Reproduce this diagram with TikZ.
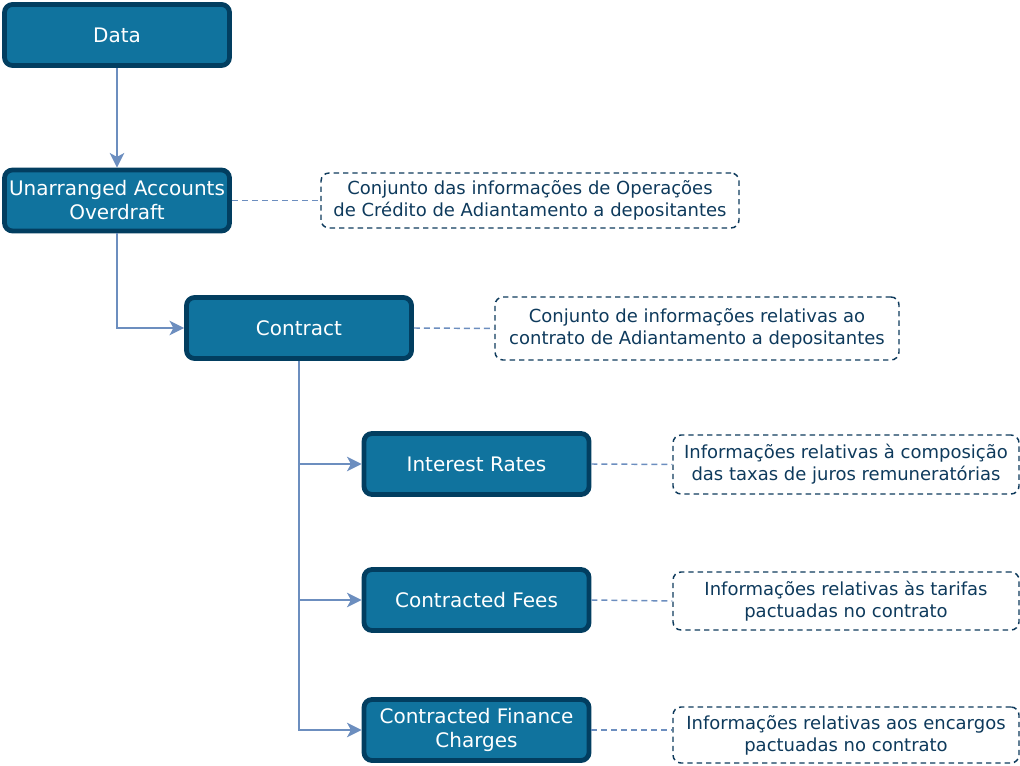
\documentclass[tikz,border=0pt]{standalone}
\usepackage{fontspec}
\setmainfont{DejaVu Sans}
\usetikzlibrary{arrows.meta}
\definecolor{boxfill}{HTML}{10739E}
\definecolor{boxline}{HTML}{023E60}
\definecolor{notetext}{HTML}{0E3A5C}
\definecolor{conn}{HTML}{6C8EBF}
\tikzset{
  mainbox/.style={draw=boxline, fill=boxfill, line width=3.6pt, rounded corners=6pt,
    minimum width=225*0.75pt, minimum height=61*0.75pt, inner sep=0pt,
    text=white, align=center, font=\fontsize{15}{18}\selectfont},
  note/.style={draw=notetext, line width=1.1pt, dash pattern=on 4pt off 3pt, rounded corners=6pt,
    inner sep=0pt, text=notetext, align=center, font=\fontsize{13.5}{16.5}\selectfont},
  link/.style={draw=conn, line width=1.1pt, -{Stealth[length=11pt,width=11pt,inset=3pt]}},
  dlink/.style={draw=conn, line width=1.1pt, dash pattern=on 4.5pt off 3pt},
}
\begin{document}
\begin{tikzpicture}[x=0.75pt,y=-0.75pt]
\useasboundingbox (0,0) rectangle (1020,766);
\node[mainbox] (data) at (117,35) {Data};
\node[mainbox] (uao) at (117,200.5) {Unarranged Accounts\\Overdraft};
\node[mainbox] (con) at (299,328) {Contract};
\node[mainbox] (ir) at (476.5,464) {Interest Rates};
\node[mainbox] (cf) at (476.5,600) {Contracted Fees};
\node[mainbox] (cfc) at (476.5,730) {Contracted Finance\\Charges};

\node[note, minimum width=418*0.75pt, minimum height=55*0.75pt] (n1) at (530,200.5) {Conjunto das informações de Operações\\de Crédito de Adiantamento a depositantes};
\node[note, minimum width=404*0.75pt, minimum height=63*0.75pt] (n2) at (697,328.5) {Conjunto de informações relativas ao\\contrato de Adiantamento a depositantes};
\node[note, minimum width=346*0.75pt, minimum height=59*0.75pt] (n3) at (846,464.5) {Informações relativas à composição\\das taxas de juros remuneratórias};
\node[note, minimum width=346*0.75pt, minimum height=58*0.75pt] (n4) at (846,601) {Informações relativas às tarifas\\pactuadas no contrato};
\node[note, minimum width=346*0.75pt, minimum height=56*0.75pt] (n5) at (846,735) {Informações relativas aos encargos\\pactuadas no contrato};

\draw[link] (data.south) -- (uao.north);
\draw[link] (uao.south) |- (con.west);
\draw[link] (con.south) |- (ir.west);
\draw[link] (con.south) |- (cf.west);
\draw[link] (con.south) |- (cfc.west);

\draw[dlink] (uao.east) -- (n1.west);
\draw[dlink] (con.east) -- (n2.west);
\draw[dlink] (ir.east) -- (n3.west);
\draw[dlink] (cf.east) -- (n4.west);
\draw[dlink] (cfc.east) -- (n5.west |- cfc.east);
\end{tikzpicture}
\end{document}
